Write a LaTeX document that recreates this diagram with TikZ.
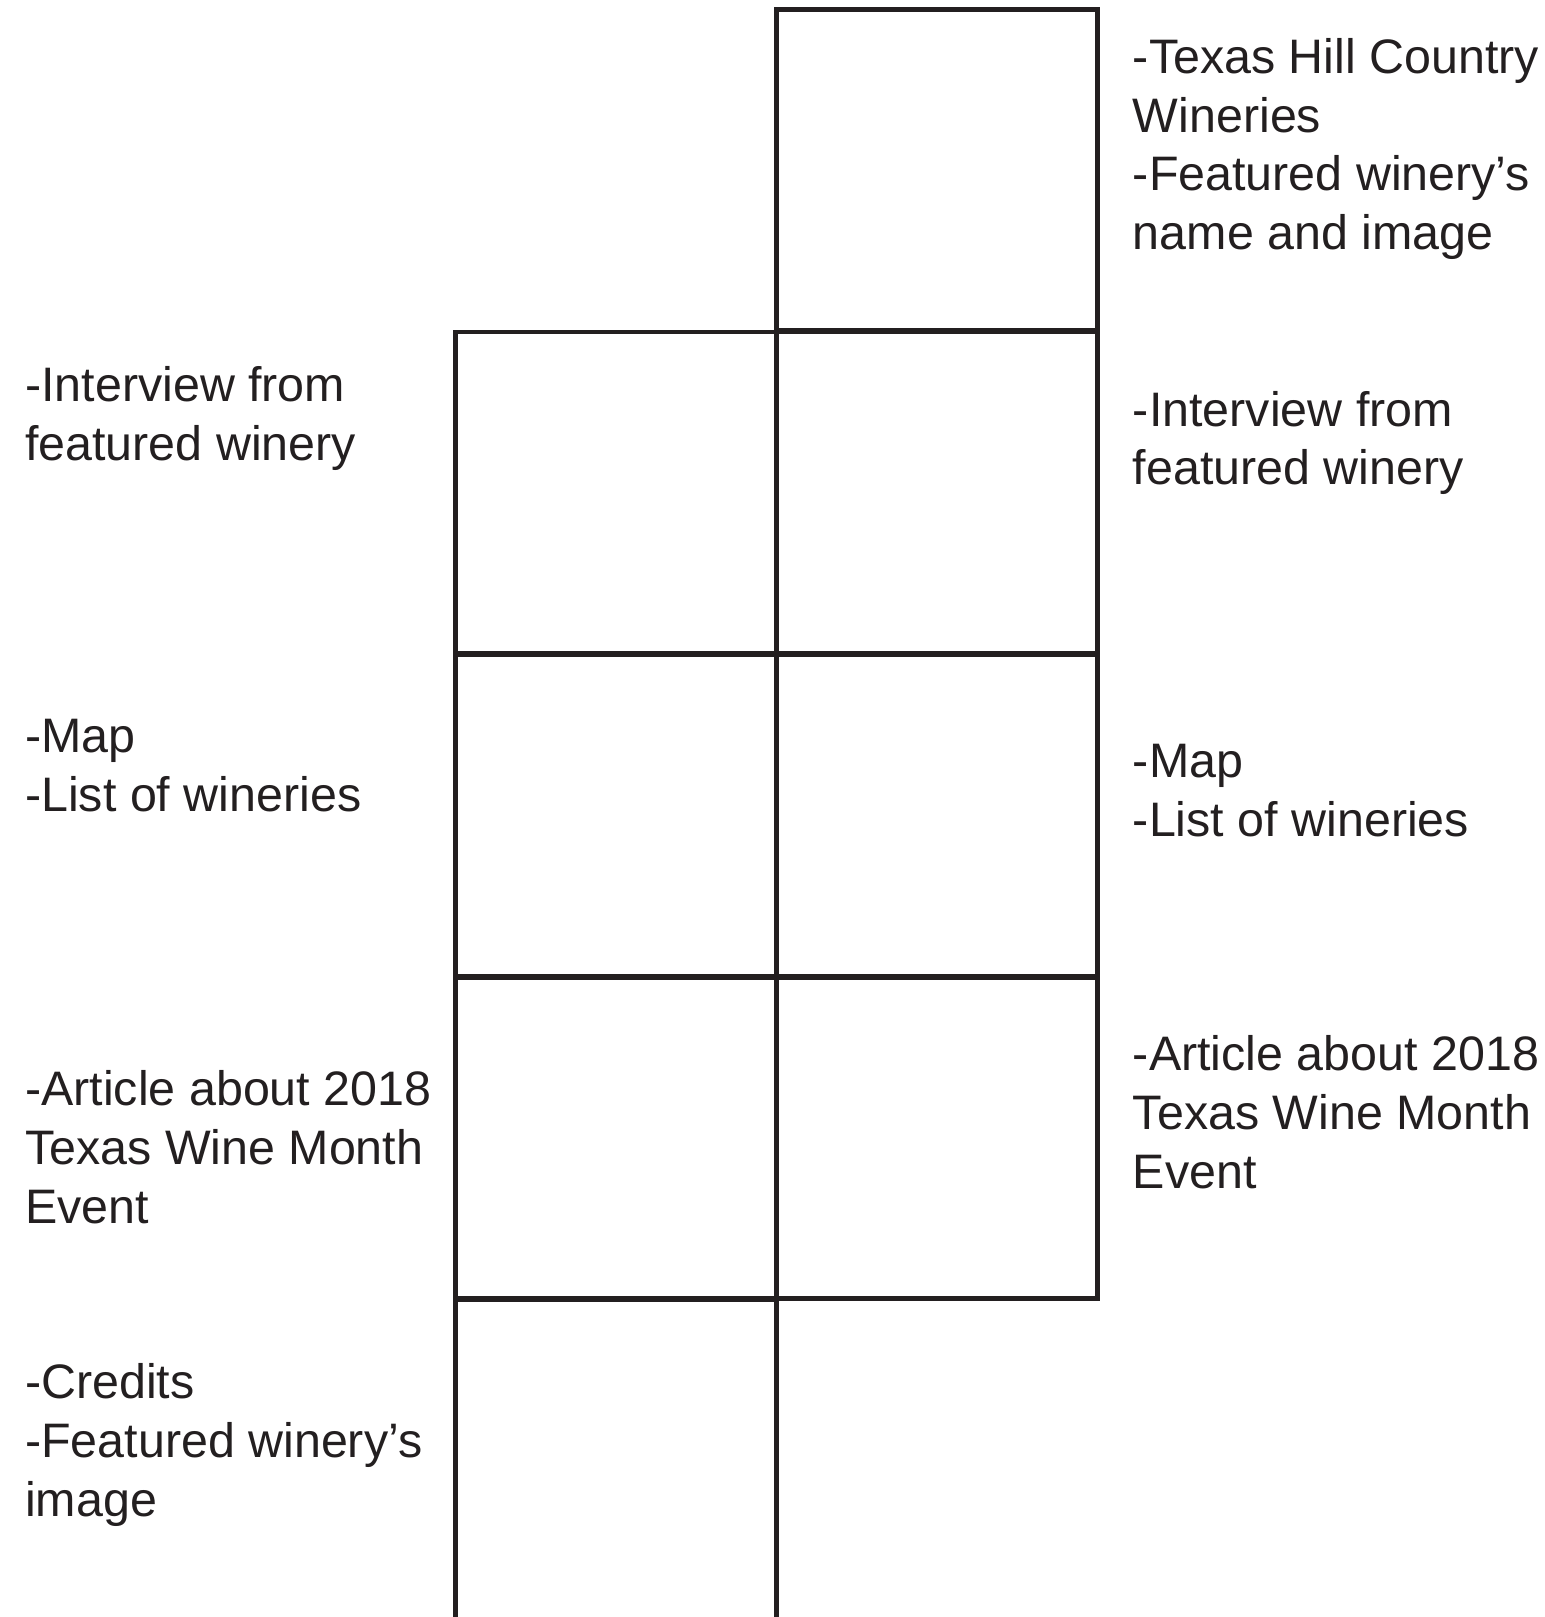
\documentclass[tikz,border=0pt]{standalone}
\usepackage{fontspec}
\setmainfont{Liberation Sans}
\usetikzlibrary{positioning}
\definecolor{ink}{HTML}{231F20}
\tikzset{
  page/.style={draw=ink, line width=2.2pt, minimum width=160.5pt,
    minimum height=160.5pt, inner sep=0pt, outer sep=0pt},
  note/.style={anchor=base west, align=left, inner sep=0pt, text=ink,
    font=\fontsize{24.2}{29.4}\selectfont}
}

\begin{document}
\begin{tikzpicture}[x=0.5pt, y=-0.5pt]
      \useasboundingbox (0,0) rectangle (1545,1617);
      % pages
      \node[page, anchor=north west] (cover) at (776.5,9.5) {};
      \node[page, below=0.8pt of cover] (intr) {};
      \node[page, left=0pt of intr] (intl) {};
      \node[page, below=0.8pt of intr] (mapr) {};
      \node[page, left=0pt of mapr] (mapl) {};
      \node[page, below=0.8pt of mapr] (artr) {};
      \node[page, left=0pt of artr] (artl) {};
      \node[page, below=0.8pt of artl] (cred) {};
      % notes, right side (placed at the baseline of the last line)
      \node[note] (covtxt) at (1132.5,249.6)
      {-Texas Hill Country\\Wineries\\-Featured winery’s\\name and image};
      \node[note] (intrtxt) at (1132.5,484.8)
      {-Interview from\\featured winery};
      \node[note] (maprtxt) at (1132.5,836.5)
      {-Map\\-List of wineries};
      \node[note] (artrtxt) at (1132.5,1188.2)
      {-Article about 2018\\Texas Wine Month\\Event};
      % notes, left side
      \node[note] (intltxt) at (24.8,460)
      {-Interview from\\featured winery};
      \node[note] (mapltxt) at (24.8,811.7)
      {-Map\\-List of wineries};
      \node[note] (artltxt) at (24.8,1223.3)
      {-Article about 2018\\Texas Wine Month\\Event};
      \node[note] (credtxt) at (24.8,1516.2)
      {-Credits\\-Featured winery’s\\image};
\end{tikzpicture}
\end{document}
